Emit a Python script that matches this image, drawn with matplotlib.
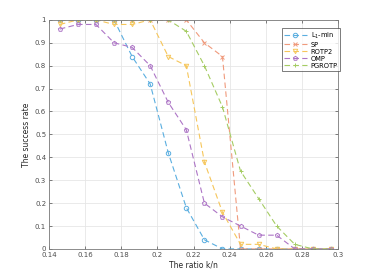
import matplotlib
matplotlib.use("Agg")
import matplotlib.pyplot as plt

# ratio k/n
ratio = [0.146, 0.156, 0.166, 0.176, 0.186, 0.196, 0.206, 0.216,
         0.226, 0.236, 0.246, 0.256, 0.266, 0.276, 0.286, 0.296]

l1_min = [1, 1, 1, 1, 0.84, 0.72, 0.42, 0.18, 0.04, 0, 0, 0, 0, 0, 0, 0]
sp     = [1, 1, 1, 1, 1, 1, 1, 1, 0.90, 0.84, 0, 0, 0, 0, 0, 0]
rotp2  = [0.98, 1, 1, 0.98, 0.98, 1, 0.84, 0.80, 0.38, 0.16, 0.02, 0.02, 0, 0, 0, 0]
omp    = [0.96, 0.98, 0.98, 0.90, 0.88, 0.80, 0.64, 0.52, 0.20, 0.14, 0.10, 0.06, 0.06, 0, 0, 0]
pgrotp = [1, 1, 1, 1, 1, 1, 1, 0.95, 0.80, 0.62, 0.34, 0.22, 0.10, 0.02, 0, 0]

labels = ["L$_1$-min", "SP", "ROTP2", "OMP", "PGROTP"]
series = [l1_min, sp, rotp2, omp, pgrotp]
colors = ["#5aaee0", "#f09a7c", "#f6c65a", "#ad75c6", "#a5cc63"]
markers = ["o", "x", "v", "p", "+"]

xticks = [0.14, 0.16, 0.18, 0.2, 0.22, 0.24, 0.26, 0.28, 0.3]
xticklabels = ["0.14", "0.16", "0.18", "0.2", "0.22", "0.24", "0.26", "0.28", "0.3"]
yticks = [0, 0.1, 0.2, 0.3, 0.4, 0.5, 0.6, 0.7, 0.8, 0.9, 1]
yticklabels = ["0", "0.1", "0.2", "0.3", "0.4", "0.5", "0.6", "0.7", "0.8", "0.9", "1"]

fig = plt.figure(figsize=(3.74, 2.8), dpi=100)
ax = fig.add_axes([0.131, 0.111, 0.773, 0.818])

for vals, lab, c, m in zip(series, labels, colors, markers):
    ax.plot(ratio, vals, linestyle=(0, (5, 3)), color=c, linewidth=0.8,
            marker=m, markersize=3.2, markerfacecolor="none",
            markeredgewidth=0.7, label=lab)

ax.set_xlim(0.14, 0.3)
ax.set_ylim(0, 1)
ax.set_xticks(xticks)
ax.set_xticklabels(xticklabels)
ax.set_yticks(yticks)
ax.set_yticklabels(yticklabels)
ax.grid(True, color="#e6e6e6", linewidth=0.6)
ax.set_axisbelow(True)
ax.tick_params(direction="in", length=2.5, width=0.5, labelsize=5,
               colors="#4d4d4d", top=True, right=True, pad=2)
for s in ax.spines.values():
    s.set_color("#7a7a7a")
    s.set_linewidth(0.6)

ax.set_xlabel("The ratio k/n", fontsize=5.5, color="#262626", labelpad=2)
ax.set_ylabel("The success rate", fontsize=5.5, color="#262626", labelpad=3)

leg = ax.legend(loc="upper right", bbox_to_anchor=(343 / 374, 1 - 25 / 280),
                bbox_transform=fig.transFigure, fontsize=4.8, frameon=True,
                fancybox=False, edgecolor="#404040", handlelength=3.4,
                borderpad=0.3, labelspacing=0.15, handletextpad=0.6)
leg.get_frame().set_linewidth(0.6)

fig.savefig("out.png", dpi=100)
